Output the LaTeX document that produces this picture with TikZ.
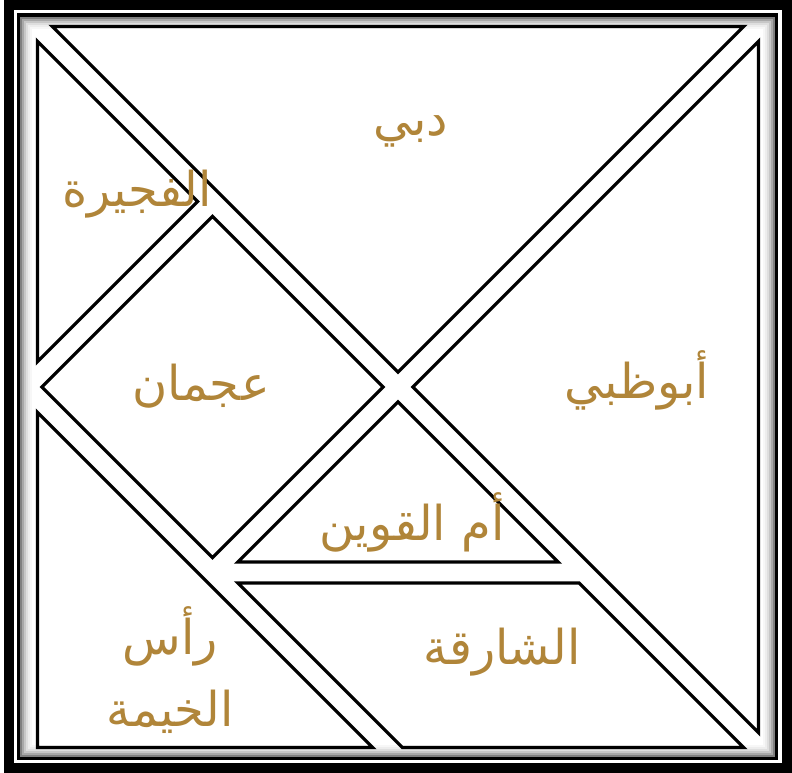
\documentclass[tikz,border=0pt]{standalone}
\usepackage{fontspec}
\newfontfamily\arabicfont[Script=Arabic]{DejaVu Sans}
\TeXXeTstate=1
\usepackage{tikz}
\definecolor{emirgold}{RGB}{176,133,57}
\tikzset{
  piece/.style={draw=black, line width=3.2pt, line join=miter},
  emirate/.style={text=emirgold, font=\arabicfont\fontsize{48}{72}\selectfont, align=center, inner sep=0pt}
}

\begin{document}
\begin{tikzpicture}[x=1pt, y=-1pt]
  \useasboundingbox (0,0) rectangle (792,773);
  % Cadre noir et blanc
  \fill[black] (4,0) rectangle (792,773);
  \fill[white] (14,10) rectangle (782,763);
  \fill[black] (17,13) rectangle (778,760);
  \fill[white] (20,17) rectangle (775,757);
  % Ombre grise a l'interieur du cadre
  \foreach \d/\g in {0/50,2/34,4/22,6/13,8/7,10/3}
    \draw[black!\g, line width=2pt] (21+\d,18+\d) rectangle (774-\d,756-\d);
  % Grand triangle du haut
  \draw[piece] (52.35,26.5) -- (743.65,26.5) -- (398,372.15) -- cycle;
  % Grand triangle de droite
  \draw[piece] (758.5,41.35) -- (758.5,732.65) -- (412.85,387) -- cycle;
  % Petit triangle en haut a gauche
  \draw[piece] (37.5,41.35) -- (197.65,201.5) -- (37.5,361.65) -- cycle;
  % Carre
  \draw[piece] (41.85,387) -- (212.5,216.35) -- (383.15,387) -- (212.5,557.65) -- cycle;
  % Petit triangle du milieu
  \draw[piece] (398,401.85) -- (558.15,562) -- (237.85,562) -- cycle;
  % Parallelogramme
  \draw[piece] (237.85,583) -- (579.15,583) -- (743.65,747.5) -- (402.35,747.5) -- cycle;
  % Triangle moyen
  \draw[piece] (37.5,412.35) -- (372.65,747.5) -- (37.5,747.5) -- cycle;
  % Etiquettes
  \node[emirate] (dubai) at (411,131) {\beginR دبي\endR};
  \node[emirate] (abudhabi) at (637,380) {\beginR أبوظبي\endR};
  \node[emirate] (fujairah) at (137,194) {\beginR الفجيرة\endR};
  \node[emirate] (ajman) at (201,386) {\beginR عجمان\endR};
  \node[emirate] (uaq) at (412,522) {\beginR أم القوين\endR};
  \node[emirate] (sharjah) at (502,652) {\beginR الشارقة\endR};
  \node[emirate] (rak) at (170,670) {\beginR رأس\endR\\\beginR الخيمة\endR};
\end{tikzpicture}
\end{document}
